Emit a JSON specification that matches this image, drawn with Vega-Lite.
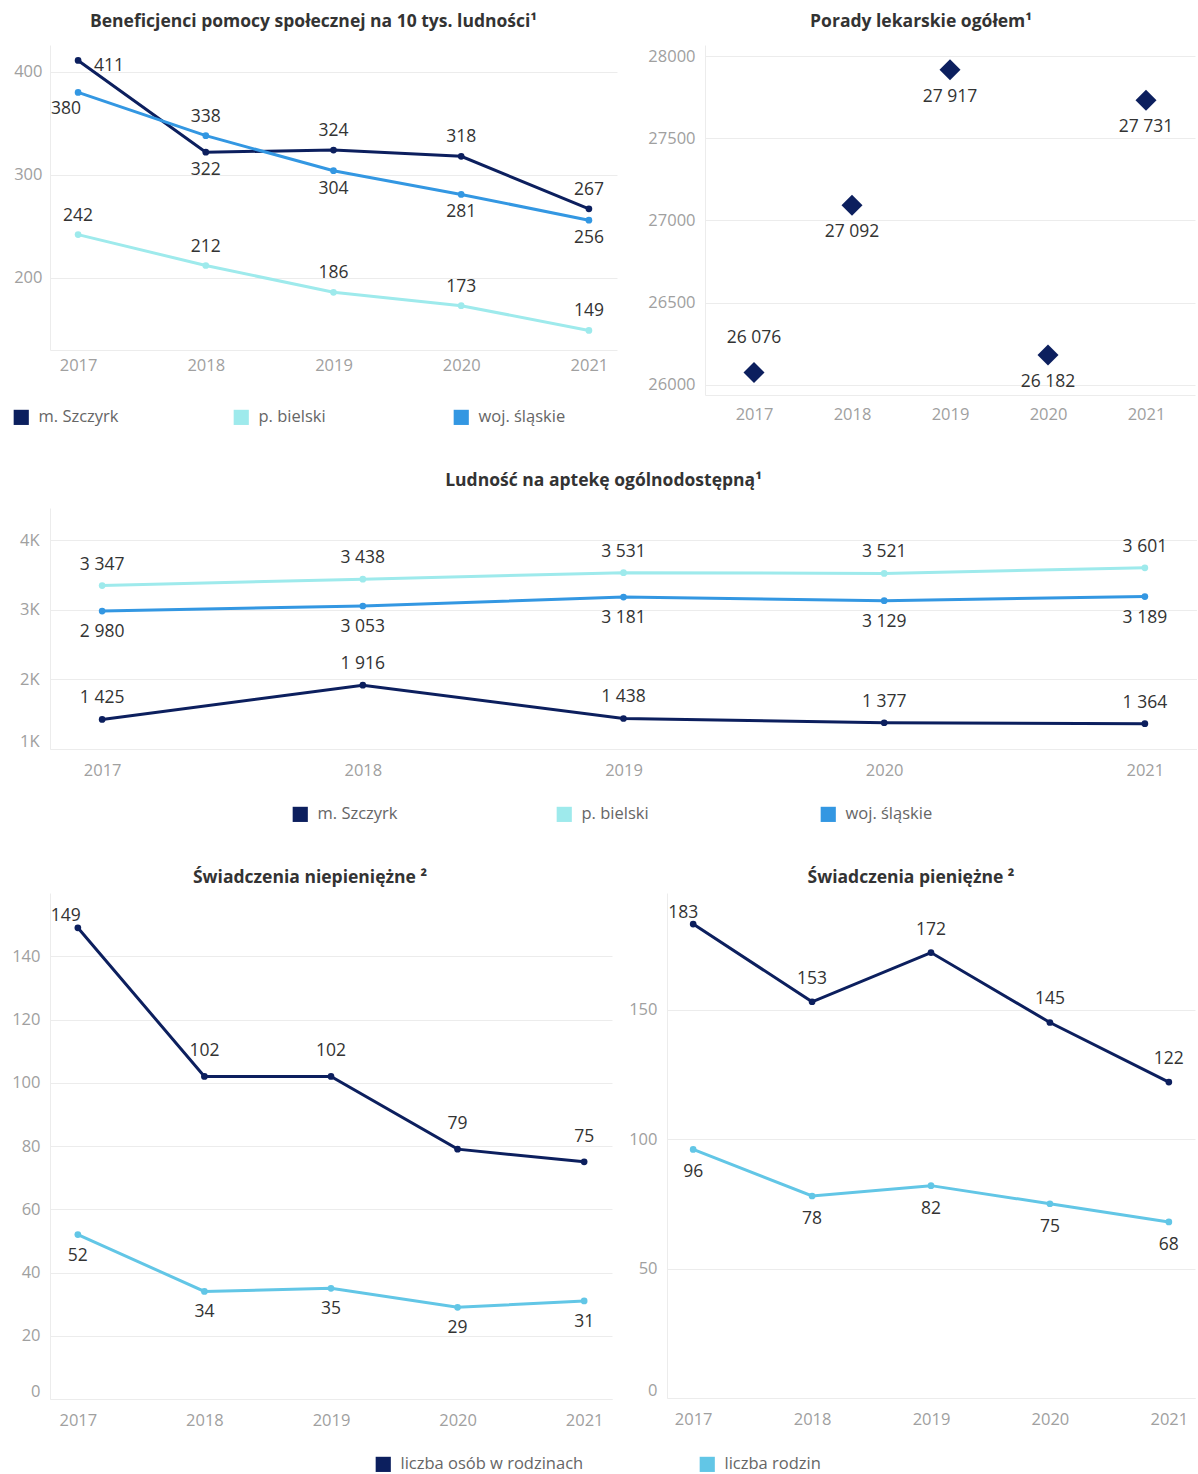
{
  "$schema": "https://vega.github.io/schema/vega-lite/v6.json",
  "background": "white",
  "padding": {"left": 8, "top": 12, "right": 0, "bottom": 0},
  "config": {
    "locale": {"number": {"decimal": ",", "thousands": " ", "grouping": [3], "currency": ["", " zł"]}},
    "view": {"stroke": null},
    "font": "Open Sans",
    "title": {"font": "Open Sans", "fontSize": 17.5, "fontWeight": "bold", "color": "#333333", "anchor": "middle", "frame": "bounds", "offset": 15},
    "axis": {"labelFont": "Open Sans", "labelColor": "#a0a0a0", "labelFontSize": 16.5, "title": null, "domainColor": "#ececec", "gridColor": "#ececec", "ticks": false, "labelPadding": 8},
    "axisX": {"grid": false, "labelAngle": 0},
    "axisY": {"grid": true, "domain": true, "minExtent": 40, "maxExtent": 40},
    "legend": {"orient": "none", "direction": "horizontal", "title": null, "symbolType": "square", "symbolSize": 230, "symbolStrokeWidth": 0, "labelFont": "Open Sans", "labelFontSize": 16.5, "labelColor": "#666666", "labelOffset": 9, "labelLimit": 400, "gridAlign": "all"},
    "text": {"font": "Open Sans", "fontSize": 17.5, "color": "#333333"}
  },
  "spacing": 45,
  "resolve": {"scale": {"color": "independent"}, "legend": {"color": "independent"}},
  "vconcat": [
    {
      "hconcat": [
        {
          "title": "Beneficjenci pomocy społecznej na 10 tys. ludności¹",
          "width": 567,
          "height": 305,
          "data": {"values": [
            {"series": "m. Szczyrk", "year": "2017", "value": 411},
            {"series": "m. Szczyrk", "year": "2018", "value": 322},
            {"series": "m. Szczyrk", "year": "2019", "value": 324},
            {"series": "m. Szczyrk", "year": "2020", "value": 318},
            {"series": "m. Szczyrk", "year": "2021", "value": 267},
            {"series": "p. bielski", "year": "2017", "value": 242},
            {"series": "p. bielski", "year": "2018", "value": 212},
            {"series": "p. bielski", "year": "2019", "value": 186},
            {"series": "p. bielski", "year": "2020", "value": 173},
            {"series": "p. bielski", "year": "2021", "value": 149},
            {"series": "woj. śląskie", "year": "2017", "value": 380},
            {"series": "woj. śląskie", "year": "2018", "value": 338},
            {"series": "woj. śląskie", "year": "2019", "value": 304},
            {"series": "woj. śląskie", "year": "2020", "value": 281},
            {"series": "woj. śląskie", "year": "2021", "value": 256}
          ]},
          "encoding": {
            "x": {"field": "year", "type": "ordinal", "scale": {"type": "point", "padding": 0.22}, "axis": {"labelPadding": 7}},
            "y": {"field": "value", "type": "quantitative", "scale": {"domain": [130, 426], "nice": false, "zero": false}, "axis": {"values": [200, 300, 400]}}
          },
          "layer": [
            {
              "mark": {"type": "line", "strokeWidth": 3, "point": {"filled": true, "size": 45}},
              "encoding": {
                "color": {"field": "series", "type": "nominal",
                  "scale": {"domain": ["m. Szczyrk", "p. bielski", "woj. śląskie"], "range": ["#0c1f5e", "#9eeaec", "#3397e2"]},
                  "legend": {"legendX": -37, "legendY": 364, "columns": 3, "columnPadding": 107}}
              }
            },
            {
              "transform": [{"filter": "indexof(['m. Szczyrk|2019','m. Szczyrk|2020','m. Szczyrk|2021','woj. śląskie|2018','p. bielski|2017','p. bielski|2018','p. bielski|2019','p. bielski|2020','p. bielski|2021'], datum.series + '|' + datum.year) >= 0"}],
              "mark": {"type": "text", "dy": -19},
              "encoding": {"text": {"field": "value", "type": "quantitative", "format": ",d"}}
            },
            {
              "transform": [{"filter": "indexof(['m. Szczyrk|2018','woj. śląskie|2019','woj. śląskie|2020','woj. śląskie|2021'], datum.series + '|' + datum.year) >= 0"}],
              "mark": {"type": "text", "dy": 18},
              "encoding": {"text": {"field": "value", "type": "quantitative", "format": ",d"}}
            },
            {
              "transform": [{"filter": "datum.series == 'm. Szczyrk' && datum.year == '2017'"}],
              "mark": {"type": "text", "dx": 31, "dy": 6},
              "encoding": {"text": {"field": "value", "type": "quantitative", "format": ",d"}}
            },
            {
              "transform": [{"filter": "datum.series == 'woj. śląskie' && datum.year == '2017'"}],
              "mark": {"type": "text", "dx": -12, "dy": 17},
              "encoding": {"text": {"field": "value", "type": "quantitative", "format": ",d"}}
            }
          ]
        },
        {
          "title": "Porady lekarskie ogółem¹",
          "width": 490,
          "height": 350,
          "data": {"values": [
            {"year": "2017", "value": 26076},
            {"year": "2018", "value": 27092},
            {"year": "2019", "value": 27917},
            {"year": "2020", "value": 26182},
            {"year": "2021", "value": 27731}
          ]},
          "encoding": {
            "x": {"field": "year", "type": "ordinal", "scale": {"type": "point", "padding": 0.5}, "axis": {"labelPadding": 11}},
            "y": {"field": "value", "type": "quantitative", "scale": {"domain": [25939, 28067], "nice": false, "zero": false}, "axis": {"values": [26000, 26500, 27000, 27500, 28000], "format": "d", "minExtent": 58, "maxExtent": 58, "labelPadding": 10}}
          },
          "layer": [
            {"mark": {"type": "point", "shape": "diamond", "filled": true, "size": 440, "color": "#0c1f5e", "opacity": 1}},
            {
              "transform": [{"filter": "datum.year != '2017'"}],
              "mark": {"type": "text", "dy": 27},
              "encoding": {"text": {"field": "value", "type": "quantitative", "format": ",d"}}
            },
            {
              "transform": [{"filter": "datum.year == '2017'"}],
              "mark": {"type": "text", "dy": -34},
              "encoding": {"text": {"field": "value", "type": "quantitative", "format": ",d"}}
            }
          ]
        }
      ],
      "spacing": 88,
      "bounds": "flush"
    },
    {
      "title": {"text": "Ludność na aptekę ogólnodostępną¹", "offset": 19},
      "width": 1147,
      "height": 241,
      "data": {"values": [
        {"series": "m. Szczyrk", "year": "2017", "value": 1425},
        {"series": "m. Szczyrk", "year": "2018", "value": 1916},
        {"series": "m. Szczyrk", "year": "2019", "value": 1438},
        {"series": "m. Szczyrk", "year": "2020", "value": 1377},
        {"series": "m. Szczyrk", "year": "2021", "value": 1364},
        {"series": "p. bielski", "year": "2017", "value": 3347},
        {"series": "p. bielski", "year": "2018", "value": 3438},
        {"series": "p. bielski", "year": "2019", "value": 3531},
        {"series": "p. bielski", "year": "2020", "value": 3521},
        {"series": "p. bielski", "year": "2021", "value": 3601},
        {"series": "woj. śląskie", "year": "2017", "value": 2980},
        {"series": "woj. śląskie", "year": "2018", "value": 3053},
        {"series": "woj. śląskie", "year": "2019", "value": 3181},
        {"series": "woj. śląskie", "year": "2020", "value": 3129},
        {"series": "woj. śląskie", "year": "2021", "value": 3189}
      ]},
      "encoding": {
        "x": {"field": "year", "type": "ordinal", "scale": {"type": "point", "padding": 0.2}, "axis": {"labelPadding": 13}},
        "y": {"field": "value", "type": "quantitative", "scale": {"domain": [1000, 4460], "nice": false, "zero": false}, "axis": {"values": [1000, 2000, 3000, 4000], "labelExpr": "(datum.value / 1000) + 'K'", "labelFlush": 1, "labelPadding": 11}}
      },
      "layer": [
        {
          "mark": {"type": "line", "strokeWidth": 3, "point": {"filled": true, "size": 45}},
          "encoding": {
            "color": {"field": "series", "type": "nominal",
              "scale": {"domain": ["m. Szczyrk", "p. bielski", "woj. śląskie"], "range": ["#0c1f5e", "#9eeaec", "#3397e2"]},
              "legend": {"legendX": 242, "legendY": 298, "columns": 3, "columnPadding": 151}}
          }
        },
        {
          "transform": [{"filter": "datum.series != 'woj. śląskie'"}],
          "mark": {"type": "text", "dy": -21},
          "encoding": {"text": {"field": "value", "type": "quantitative", "format": ",d"}}
        },
        {
          "transform": [{"filter": "datum.series == 'woj. śląskie'"}],
          "mark": {"type": "text", "dy": 21},
          "encoding": {"text": {"field": "value", "type": "quantitative", "format": ",d"}}
        }
      ]
    },
    {
      "hconcat": [
        {
          "title": {"text": "Świadczenia niepieniężne ²", "offset": 7, "frame": "group", "dx": -21},
          "width": 562,
          "height": 506,
          "data": {"values": [
            {"series": "liczba osób w rodzinach", "year": "2017", "value": 149},
            {"series": "liczba osób w rodzinach", "year": "2018", "value": 102},
            {"series": "liczba osób w rodzinach", "year": "2019", "value": 102},
            {"series": "liczba osób w rodzinach", "year": "2020", "value": 79},
            {"series": "liczba osób w rodzinach", "year": "2021", "value": 75},
            {"series": "liczba rodzin", "year": "2017", "value": 52},
            {"series": "liczba rodzin", "year": "2018", "value": 34},
            {"series": "liczba rodzin", "year": "2019", "value": 35},
            {"series": "liczba rodzin", "year": "2020", "value": 29},
            {"series": "liczba rodzin", "year": "2021", "value": 31}
          ]},
          "encoding": {
            "x": {"field": "year", "type": "ordinal", "scale": {"type": "point", "padding": 0.22}, "axis": {"labelPadding": 13}},
            "y": {"field": "value", "type": "quantitative", "scale": {"domain": [0, 160], "nice": false}, "axis": {"values": [0, 20, 40, 60, 80, 100, 120, 140], "labelFlush": 1, "labelPadding": 10, "minExtent": 42, "maxExtent": 42}}
          },
          "layer": [
            {
              "mark": {"type": "line", "strokeWidth": 3, "point": {"filled": true, "size": 45}},
              "encoding": {
                "color": {"field": "series", "type": "nominal",
                  "scale": {"domain": ["liczba osób w rodzinach", "liczba rodzin"], "range": ["#0c1f5e", "#62c6e6"]},
                  "legend": {"legendX": 325, "legendY": 563, "columns": 2, "columnPadding": 115}}
              }
            },
            {
              "transform": [{"filter": "datum.series == 'liczba osób w rodzinach' && datum.year != '2017'"}],
              "mark": {"type": "text", "dy": -25},
              "encoding": {"text": {"field": "value", "type": "quantitative", "format": ",d"}}
            },
            {
              "transform": [{"filter": "datum.series == 'liczba osób w rodzinach' && datum.year == '2017'"}],
              "mark": {"type": "text", "dx": -12, "dy": -12},
              "encoding": {"text": {"field": "value", "type": "quantitative", "format": ",d"}}
            },
            {
              "transform": [{"filter": "datum.series == 'liczba rodzin'"}],
              "mark": {"type": "text", "dy": 21},
              "encoding": {"text": {"field": "value", "type": "quantitative", "format": ",d"}}
            }
          ]
        },
        {
          "title": {"text": "Świadczenia pieniężne ²", "offset": 7},
          "width": 528,
          "height": 505,
          "data": {"values": [
            {"series": "liczba osób w rodzinach", "year": "2017", "value": 183},
            {"series": "liczba osób w rodzinach", "year": "2018", "value": 153},
            {"series": "liczba osób w rodzinach", "year": "2019", "value": 172},
            {"series": "liczba osób w rodzinach", "year": "2020", "value": 145},
            {"series": "liczba osób w rodzinach", "year": "2021", "value": 122},
            {"series": "liczba rodzin", "year": "2017", "value": 96},
            {"series": "liczba rodzin", "year": "2018", "value": 78},
            {"series": "liczba rodzin", "year": "2019", "value": 82},
            {"series": "liczba rodzin", "year": "2020", "value": 75},
            {"series": "liczba rodzin", "year": "2021", "value": 68}
          ]},
          "encoding": {
            "x": {"field": "year", "type": "ordinal", "scale": {"type": "point", "padding": 0.22}, "axis": {"labelPadding": 13}},
            "y": {"field": "value", "type": "quantitative", "scale": {"domain": [0, 195], "nice": false}, "axis": {"values": [0, 50, 100, 150], "labelFlush": 1, "labelPadding": 10}}
          },
          "layer": [
            {
              "mark": {"type": "line", "strokeWidth": 3, "point": {"filled": true, "size": 45}},
              "encoding": {
                "color": {"field": "series", "type": "nominal",
                  "scale": {"domain": ["liczba osób w rodzinach", "liczba rodzin"], "range": ["#0c1f5e", "#62c6e6"]},
                  "legend": null}
              }
            },
            {
              "transform": [{"filter": "datum.series == 'liczba osób w rodzinach' && datum.year != '2017'"}],
              "mark": {"type": "text", "dy": -23},
              "encoding": {"text": {"field": "value", "type": "quantitative", "format": ",d"}}
            },
            {
              "transform": [{"filter": "datum.series == 'liczba osób w rodzinach' && datum.year == '2017'"}],
              "mark": {"type": "text", "dx": -10, "dy": -11},
              "encoding": {"text": {"field": "value", "type": "quantitative", "format": ",d"}}
            },
            {
              "transform": [{"filter": "datum.series == 'liczba rodzin'"}],
              "mark": {"type": "text", "dy": 23},
              "encoding": {"text": {"field": "value", "type": "quantitative", "format": ",d"}}
            }
          ]
        }
      ],
      "spacing": 55,
      "bounds": "flush",
      "resolve": {"scale": {"color": "independent"}, "legend": {"color": "independent"}}
    }
  ]
}
